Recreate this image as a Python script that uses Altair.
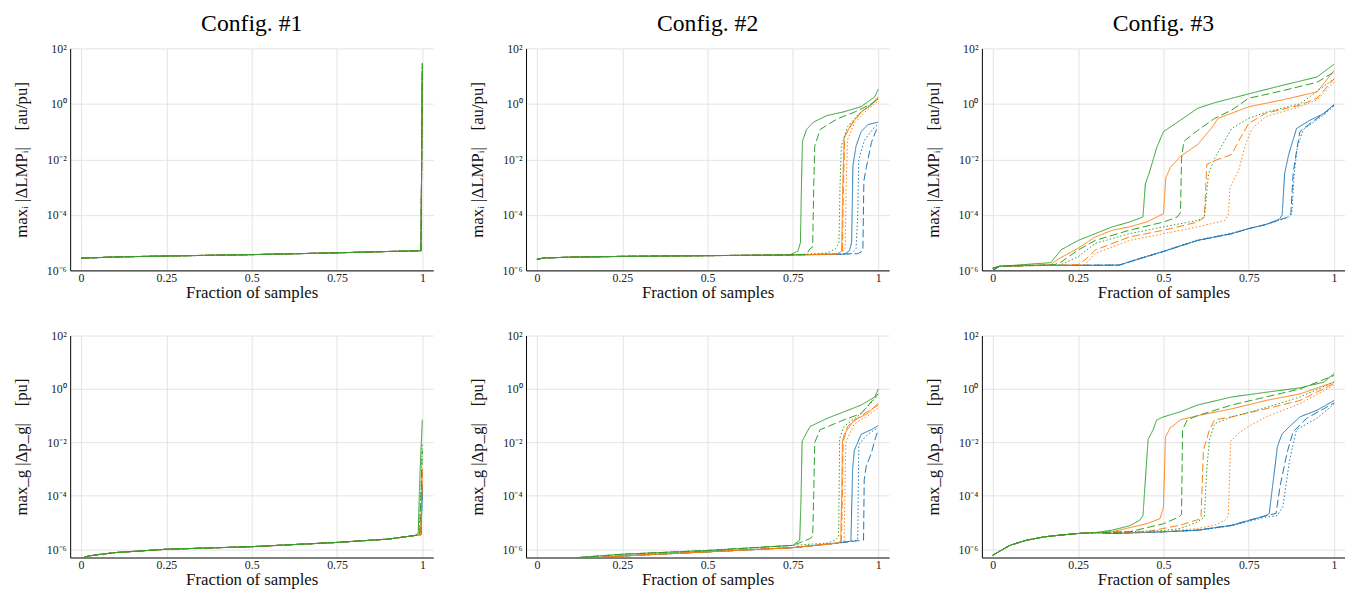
import altair as alt
import pandas as pd

FONT = "Liberation Serif"
COLOR_NAMES = ["blue", "orange", "green"]
COLOR_HEX = ["#1f77b4", "#ff7f0e", "#2ca02c"]
STYLE_NAMES = ["solid", "dashed", "dotted"]
STYLE_DASH = [[1, 0], [8, 3.5], [1.5, 2.2]]

TITLES = ["Config. #1", "Config. #2", "Config. #3"]
X_TICKS = [0, 0.25, 0.5, 0.75, 1]
Y_TICKS = [1e-6, 1e-4, 1e-2, 1, 100]
Y_TITLE_LMP = "maxᵢ |ΔLMPᵢ|\u2003[au/pu]"
Y_TITLE_PG = "max_g |Δp_g|\u2003[pu]"
X_TITLE = "Fraction of samples"

# ---------------- Config 1, LMP ----------------
c1l_base = [(0.0, 2.75e-6), (0.1, 3.05e-6), (0.25, 3.3e-6), (0.5, 3.7e-6), (0.75, 4.3e-6), (0.9, 4.8e-6), (0.996, 5.1e-6)]
c1l_blue_solid = c1l_base + [(1.0, 15)]
c1l_blue_dashed = c1l_base + [(1.0, 12)]
c1l_blue_dotted = c1l_base + [(1.0, 14)]
c1l_orange_solid = c1l_base + [(1.0, 22)]
c1l_orange_dashed = c1l_base + [(1.0, 20)]
c1l_orange_dotted = c1l_base + [(1.0, 24)]
c1l_green_solid = c1l_base + [(1.0, 30)]
c1l_green_dashed = c1l_base + [(1.0, 28)]
c1l_green_dotted = c1l_base + [(1.0, 29)]

# ---------------- Config 2, LMP ----------------
c2l_base = [(0.0, 2.5e-6), (0.02, 2.8e-6), (0.1, 3.0e-6), (0.25, 3.2e-6), (0.5, 3.4e-6), (0.74, 3.6e-6)]
c2l_green_solid = c2l_base + [(0.765, 5e-6), (0.772, 1e-5), (0.775, 1e-3), (0.778, 0.045), (0.79, 0.12), (0.81, 0.22), (0.85, 0.38), (0.9, 0.52), (0.95, 0.8), (0.99, 1.8), (1.0, 3.4)]
c2l_green_dashed = c2l_base + [(0.79, 3.8e-6), (0.80, 6e-6), (0.808, 7e-6), (0.811, 1e-3), (0.814, 0.03), (0.83, 0.12), (0.88, 0.29), (0.93, 0.5), (0.98, 1.0), (1.0, 1.6)]
c2l_green_dotted = c2l_base + [(0.85, 4.2e-6), (0.875, 6e-6), (0.885, 1e-5), (0.888, 1e-3), (0.892, 0.03), (0.91, 0.15), (0.94, 0.4), (0.97, 0.8), (1.0, 1.5)]
c2l_orange_solid = c2l_base + [(0.88, 3.9e-6), (0.893, 5e-6), (0.896, 1e-3), (0.9, 0.06), (0.92, 0.18), (0.95, 0.52), (0.98, 0.9), (1.0, 1.8)]
c2l_orange_dashed = c2l_base + [(0.88, 3.9e-6), (0.895, 5e-6), (0.898, 1e-3), (0.902, 0.07), (0.925, 0.2), (0.95, 0.5), (0.98, 0.95), (1.0, 1.6)]
c2l_orange_dotted = c2l_base + [(0.89, 4e-6), (0.903, 6e-6), (0.906, 1e-3), (0.91, 0.05), (0.93, 0.2), (0.96, 0.5), (0.99, 1.0), (1.0, 1.3)]
c2l_blue_solid = c2l_base + [(0.9, 3.8e-6), (0.915, 5e-6), (0.922, 1e-5), (0.926, 6e-3), (0.935, 0.03), (0.95, 0.1), (0.97, 0.18), (1.0, 0.22)]
c2l_blue_dashed = c2l_base + [(0.94, 4e-6), (0.955, 5e-6), (0.958, 1.7e-3), (0.965, 5e-3), (0.98, 0.04), (0.995, 0.12), (1.0, 0.16)]
c2l_blue_dotted = c2l_base + [(0.92, 3.9e-6), (0.935, 6e-6), (0.94, 1e-4), (0.943, 0.01), (0.96, 0.05), (0.99, 0.15), (1.0, 0.18)]

# ---------------- Config 3, LMP ----------------
c3l_blue_solid = [(0.0, 1e-6), (0.02, 1.4e-6), (0.1, 1.5e-6), (0.37, 1.55e-6), (0.42, 2.4e-6), (0.5, 4.8e-6), (0.6, 1.2e-5), (0.7, 2.1e-5), (0.75, 3.2e-5), (0.8, 4.5e-5), (0.84, 7e-5), (0.848, 1e-4), (0.855, 3e-3), (0.867, 0.015), (0.89, 0.13), (0.93, 0.26), (0.97, 0.45), (1.0, 0.95)]
c3l_blue_dashed = [(0.0, 1e-6), (0.02, 1.4e-6), (0.1, 1.5e-6), (0.37, 1.55e-6), (0.42, 2.4e-6), (0.5, 4.8e-6), (0.6, 1.2e-5), (0.7, 2.1e-5), (0.75, 3.2e-5), (0.8, 4.5e-5), (0.86, 8e-5), (0.873, 1e-4), (0.88, 3e-3), (0.89, 0.02), (0.9, 0.1), (0.93, 0.2), (0.97, 0.45), (1.0, 0.9)]
c3l_blue_dotted = [(0.0, 1e-6), (0.02, 1.4e-6), (0.1, 1.5e-6), (0.37, 1.55e-6), (0.42, 2.5e-6), (0.5, 5e-6), (0.6, 1.25e-5), (0.7, 2.2e-5), (0.75, 3.2e-5), (0.8, 4.5e-5), (0.865, 8e-5), (0.876, 1.1e-4), (0.884, 4e-3), (0.893, 0.03), (0.91, 0.12), (0.94, 0.22), (0.97, 0.4), (1.0, 0.85)]
c3l_orange_solid = [(0.0, 1.2e-6), (0.02, 1.4e-6), (0.17, 1.6e-6), (0.19, 2.5e-6), (0.25, 6.3e-6), (0.3, 1.6e-5), (0.35, 2.8e-5), (0.4, 3.7e-5), (0.45, 5.5e-5), (0.5, 1.1e-4), (0.507, 2.2e-3), (0.52, 5e-3), (0.55, 0.013), (0.6, 0.034), (0.64, 0.13), (0.66, 0.3), (0.75, 0.79), (0.85, 1.4), (0.95, 2.7), (1.0, 16)]
c3l_orange_dashed = [(0.0, 1.2e-6), (0.02, 1.4e-6), (0.25, 1.6e-6), (0.27, 2.4e-6), (0.3, 5.4e-6), (0.4, 1.6e-5), (0.5, 2.8e-5), (0.6, 5.5e-5), (0.62, 8.3e-5), (0.627, 6.6e-3), (0.65, 9e-3), (0.7, 0.015), (0.72, 0.045), (0.75, 0.2), (0.8, 0.46), (0.9, 0.9), (0.95, 1.6), (1.0, 8)]
c3l_orange_dotted = [(0.0, 1.2e-6), (0.02, 1.4e-6), (0.27, 1.6e-6), (0.3, 4.1e-6), (0.4, 1.2e-5), (0.5, 2.1e-5), (0.6, 3.7e-5), (0.68, 6.3e-5), (0.69, 1e-4), (0.695, 1e-3), (0.72, 3.8e-3), (0.74, 0.034), (0.76, 0.13), (0.8, 0.35), (0.9, 0.79), (0.95, 1.4), (1.0, 6)]
c3l_green_solid = [(0.0, 1.2e-6), (0.02, 1.4e-6), (0.17, 1.9e-6), (0.2, 5.5e-6), (0.25, 1.2e-5), (0.3, 2.1e-5), (0.35, 3.7e-5), (0.4, 5.5e-5), (0.44, 8.4e-5), (0.447, 1.3e-3), (0.46, 3.8e-3), (0.48, 0.026), (0.5, 0.1), (0.55, 0.26), (0.6, 0.69), (0.65, 1.1), (0.75, 2.3), (0.85, 4.7), (0.95, 9.3), (1.0, 27)]
c3l_green_dashed = [(0.0, 1.2e-6), (0.02, 1.4e-6), (0.18, 1.6e-6), (0.2, 2e-6), (0.25, 5.4e-6), (0.3, 1.2e-5), (0.4, 2.8e-5), (0.5, 5.5e-5), (0.54, 8.3e-5), (0.55, 1.2e-4), (0.553, 0.011), (0.56, 0.045), (0.6, 0.11), (0.65, 0.3), (0.7, 0.6), (0.75, 1.6), (0.85, 3.0), (0.95, 6.0), (1.0, 14)]
c3l_green_dotted = [(0.0, 1.2e-6), (0.02, 1.4e-6), (0.2, 1.6e-6), (0.25, 3.1e-6), (0.3, 9.4e-6), (0.4, 2.1e-5), (0.5, 3.7e-5), (0.6, 6.3e-5), (0.62, 8.3e-5), (0.632, 3e-3), (0.65, 0.011), (0.7, 0.13), (0.75, 0.3), (0.8, 0.5), (0.9, 1.0), (1.0, 8)]

# ---------------- Config 1, p_g ----------------
c1p_base = [(0.0, 4.6e-7), (0.02, 5.5e-7), (0.05, 6.3e-7), (0.1, 7.5e-7), (0.25, 1.0e-6), (0.5, 1.25e-6), (0.75, 1.8e-6), (0.9, 2.4e-6), (0.98, 3.3e-6)]
c1p_blue_solid = c1p_base + [(0.996, 3.5e-6), (1.0, 2.5e-4)]
c1p_blue_dashed = c1p_base + [(0.996, 3.5e-6), (1.0, 2.0e-4)]
c1p_blue_dotted = c1p_base + [(0.996, 3.5e-6), (1.0, 2.2e-4)]
c1p_orange_solid = c1p_base + [(0.995, 3.6e-6), (1.0, 1e-3)]
c1p_orange_dashed = c1p_base + [(0.995, 3.6e-6), (1.0, 8e-4)]
c1p_orange_dotted = c1p_base + [(0.995, 3.6e-6), (1.0, 1.2e-3)]
c1p_green_solid = c1p_base + [(0.988, 4e-6), (0.992, 3e-4), (0.997, 0.01), (1.0, 0.07)]
c1p_green_dashed = c1p_base + [(0.992, 3.6e-6), (1.0, 5e-3)]
c1p_green_dotted = c1p_base + [(0.99, 3.8e-6), (0.995, 1e-4), (1.0, 0.01)]

# ---------------- Config 2, p_g ----------------
c2p_base = [(0.0, 1.2e-7), (0.05, 2.2e-7), (0.14, 4.5e-7), (0.25, 5.6e-7), (0.5, 8e-7), (0.75, 1.15e-6), (0.88, 1.7e-6)]
c2p_green_base = [(0.0, 1.5e-7), (0.05, 2.7e-7), (0.12, 4.9e-7), (0.25, 6.5e-7), (0.5, 9e-7), (0.75, 1.4e-6)]
c2p_green_solid = c2p_green_base + [(0.77, 2.2e-6), (0.774, 1e-4), (0.777, 0.011), (0.8, 0.039), (0.85, 0.079), (0.9, 0.14), (0.95, 0.25), (0.99, 0.5), (1.0, 1.0)]
c2p_green_dashed = c2p_green_base + [(0.8, 2.5e-6), (0.808, 3e-6), (0.811, 1e-4), (0.814, 0.01), (0.83, 0.03), (0.9, 0.07), (0.95, 0.12), (1.0, 0.67)]
c2p_green_dotted = c2p_green_base + [(0.85, 1.7e-6), (0.875, 2.2e-6), (0.884, 3e-6), (0.887, 0.014), (0.9, 0.04), (0.95, 0.12), (1.0, 0.6)]
c2p_orange_solid = c2p_base + [(0.89, 2e-6), (0.893, 1e-4), (0.895, 0.01), (0.9, 0.02), (0.93, 0.07), (0.97, 0.12), (1.0, 0.3)]
c2p_orange_dashed = c2p_base + [(0.892, 2e-6), (0.895, 1e-4), (0.897, 0.01), (0.91, 0.04), (0.95, 0.1), (1.0, 0.25)]
c2p_orange_dotted = c2p_base + [(0.9, 2e-6), (0.905, 0.01), (0.93, 0.05), (0.97, 0.1), (1.0, 0.2)]
c2p_blue_solid = c2p_base + [(0.92, 2e-6), (0.925, 1e-3), (0.93, 5e-3), (0.95, 0.02), (0.98, 0.03), (1.0, 0.042)]
c2p_blue_dashed = c2p_base + [(0.957, 2.2e-6), (0.959, 4e-4), (0.965, 1.3e-3), (0.98, 4e-3), (0.99, 0.012), (1.0, 0.03)]
c2p_blue_dotted = c2p_base + [(0.94, 2.2e-6), (0.943, 8e-3), (0.96, 0.015), (0.98, 0.025), (1.0, 0.035)]

# ---------------- Config 3, p_g ----------------
c3p_base = [(0.0, 6e-7), (0.05, 1.4e-6), (0.1, 2.2e-6), (0.15, 2.9e-6), (0.2, 3.4e-6), (0.25, 3.9e-6), (0.3, 4.2e-6)]
c3p_green_solid = c3p_base + [(0.35, 5.2e-6), (0.4, 7.5e-6), (0.43, 1.2e-5), (0.44, 1.8e-5), (0.455, 0.013), (0.47, 0.03), (0.48, 0.069), (0.5, 0.09), (0.55, 0.14), (0.6, 0.25), (0.7, 0.5), (0.8, 0.75), (0.9, 1.1), (0.97, 1.8), (1.0, 3.8)]
c3p_green_dashed = c3p_base + [(0.4, 4.5e-6), (0.5, 9e-6), (0.545, 1.6e-5), (0.553, 2e-5), (0.556, 0.03), (0.57, 0.07), (0.6, 0.1), (0.7, 0.25), (0.8, 0.5), (0.9, 1.0), (1.0, 3.2)]
c3p_green_dotted = c3p_base + [(0.5, 5e-6), (0.55, 6e-6), (0.6, 1.05e-5), (0.62, 1.6e-5), (0.627, 1e-3), (0.635, 0.013), (0.65, 0.05), (0.7, 0.09), (0.8, 0.2), (0.9, 0.5), (1.0, 1.8)]
c3p_orange_solid = c3p_base + [(0.35, 4.5e-6), (0.45, 9e-6), (0.49, 1.4e-5), (0.5, 3.8e-5), (0.506, 0.016), (0.52, 0.035), (0.55, 0.07), (0.6, 0.1), (0.7, 0.18), (0.8, 0.37), (0.9, 0.65), (1.0, 1.8)]
c3p_orange_dashed = c3p_base + [(0.45, 4.5e-6), (0.55, 8e-6), (0.61, 1.4e-5), (0.617, 5e-3), (0.635, 0.03), (0.65, 0.07), (0.7, 0.09), (0.8, 0.18), (0.9, 0.37), (1.0, 1.6)]
c3p_orange_dotted = c3p_base + [(0.5, 4.5e-6), (0.6, 6e-6), (0.65, 7.9e-6), (0.68, 1.2e-5), (0.69, 1.8e-5), (0.697, 0.011), (0.72, 0.022), (0.75, 0.04), (0.8, 0.09), (0.9, 0.28), (1.0, 1.4)]
c3p_blue_solid = c3p_base + [(0.35, 3.9e-6), (0.5, 4.5e-6), (0.6, 5.2e-6), (0.7, 7.9e-6), (0.75, 1.2e-5), (0.8, 1.8e-5), (0.81, 2.2e-5), (0.834, 7e-3), (0.847, 0.02), (0.87, 0.04), (0.9, 0.09), (0.95, 0.16), (1.0, 0.37)]
c3p_blue_dashed = c3p_base + [(0.35, 3.9e-6), (0.5, 4.5e-6), (0.6, 5.2e-6), (0.7, 7.9e-6), (0.75, 1.2e-5), (0.8, 1.8e-5), (0.83, 2.2e-5), (0.842, 2.4e-4), (0.862, 4e-3), (0.88, 0.025), (0.92, 0.08), (1.0, 0.3)]
c3p_blue_dotted = c3p_base + [(0.35, 3.9e-6), (0.5, 4.5e-6), (0.6, 5.0e-6), (0.7, 7.5e-6), (0.75, 1.1e-5), (0.8, 1.6e-5), (0.833, 1.8e-5), (0.85, 4e-5), (0.87, 2.3e-3), (0.89, 0.03), (0.95, 0.08), (1.0, 0.28)]

G = globals()
PREFIX = {("lmp", 1): "c1l", ("lmp", 2): "c2l", ("lmp", 3): "c3l",
          ("pg", 1): "c1p", ("pg", 2): "c2p", ("pg", 3): "c3p"}


def panel_df(kind, cfg):
    rows = []
    pre = PREFIX[(kind, cfg)]
    for ci, c in enumerate(COLOR_NAMES):
        for si, s in enumerate(STYLE_NAMES):
            pts = G[f"{pre}_{c}_{s}"]
            for i, (x, y) in enumerate(pts):
                rows.append({"x": x, "y": y, "col": c, "sty": s,
                             "key": f"{ci}{si}_{c}_{s}", "i": i})
    return pd.DataFrame(rows)


Y_LABEL_EXPR = ("datum.value > 50 ? '10²' : datum.value > 0.5 ? '10⁰' : "
                "datum.value > 0.005 ? '10⁻²' : datum.value > 0.00005 ? '10⁻⁴' : '10⁻⁶'")


def make_panel(kind, cfg):
    df = panel_df(kind, cfg)
    ydom = [1e-6, 100] if kind == "lmp" else [4.9e-7, 100]
    ytitle = Y_TITLE_LMP if kind == "lmp" else Y_TITLE_PG
    ch = alt.Chart(df).mark_line(strokeWidth=1, clip=True).encode(
        x=alt.X("x:Q", scale=alt.Scale(domain=[-0.032, 1.032], nice=False, zero=False),
                axis=alt.Axis(values=X_TICKS, format=".2~f", title=X_TITLE, grid=True,
                              ticks=False, labelPadding=2, titlePadding=1)),
        y=alt.Y("y:Q", scale=alt.Scale(type="log", domain=ydom, nice=False),
                axis=alt.Axis(values=Y_TICKS, labelExpr=Y_LABEL_EXPR, title=ytitle, grid=True,
                              ticks=False, labelPadding=4, titlePadding=16)),
        color=alt.Color("col:N", scale=alt.Scale(domain=COLOR_NAMES, range=COLOR_HEX), legend=None),
        strokeDash=alt.StrokeDash("sty:N", scale=alt.Scale(domain=STYLE_NAMES, range=STYLE_DASH), legend=None),
        detail="key:N",
        order="i:Q",
    ).properties(width=368, height=225)
    if kind == "lmp":
        ch = ch.properties(title=alt.TitleParams(TITLES[cfg - 1], fontSize=24, font=FONT,
                                                 fontWeight="normal", offset=7))
    return ch


top = alt.hconcat(*[make_panel("lmp", c) for c in (1, 2, 3)], spacing=35)
bottom = alt.hconcat(*[make_panel("pg", c) for c in (1, 2, 3)], spacing=35)

chart = alt.vconcat(top, bottom, spacing=30, padding={"left": 4, "top": 0, "right": 0, "bottom": 0}
).configure_view(stroke=None).configure_axis(
    labelFont=FONT, titleFont=FONT, labelFontSize=12, titleFontSize=17,
    titleFontWeight="normal", labelColor="#222222", titleColor="#111111",
    domainColor="#000000", domainWidth=1, gridColor="#e4e4e4", gridWidth=1,
)

chart.save("out.html", embed_options={"renderer": "svg", "actions": False})
